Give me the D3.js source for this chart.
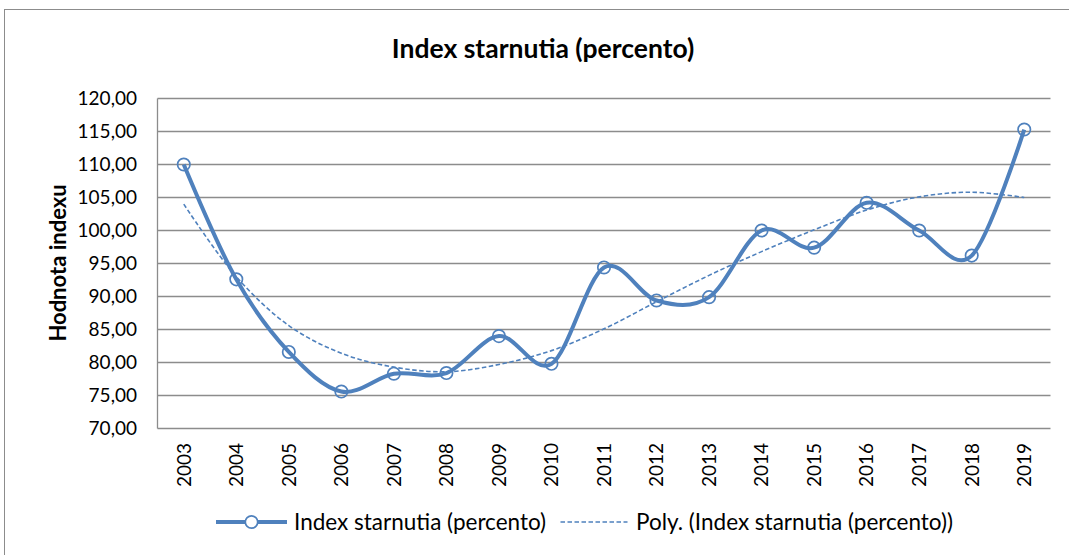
<!DOCTYPE html>
<html><head><meta charset="utf-8">
<script src="https://cdn.jsdelivr.net/npm/d3@7"></script>
<style>body{margin:0;background:#fff}svg{display:block}</style>
</head><body>
<svg id="c" width="1069" height="555"></svg>
<script>
const years = ["2003","2004","2005","2006","2007","2008","2009","2010","2011","2012","2013","2014","2015","2016","2017","2018","2019"];
const values = [110.0, 92.6, 81.6, 75.6, 78.3, 78.4, 84.0, 79.8, 94.4, 89.4, 89.9, 100.0, 97.4, 104.2, 100.0, 96.2, 115.3];
const trend = [104.0, 93.0, 85.6, 81.4, 79.3, 78.6, 79.7, 81.8, 85.1, 89.2, 93.2, 96.8, 100.1, 103.1, 105.1, 105.8, 105.0];
const yTicks = [70,75,80,85,90,95,100,105,110,115,120];
const title = "Index starnutia (percento)";
const yTitle = "Hodnota indexu";
const seriesName = "Index starnutia (percento)";
const trendName = "Poly. (Index starnutia (percento))";

const blue = "#4F81BD", grid = "#8c8c8c";
const font = "Lato, 'Open Sans', sans-serif";
const svg = d3.select("#c");
const L = 157.5, R = 1050.5, T = 98.5, B = 428.5;

svg.append("rect").attr("x",4.5).attr("y",9.5).attr("width",1200).attr("height",700)
  .attr("fill","none").attr("stroke","#8c8c8c").attr("stroke-width",1);

const x = d3.scaleBand().domain(years).range([L,R]);
const y = d3.scaleLinear().domain([70,120]).range([B,T]);
const fmt = d => d3.format(".2f")(d).replace(".",",");

svg.append("g").selectAll("line").data(yTicks).join("line")
  .attr("x1",L).attr("x2",R).attr("y1",d=>y(d)).attr("y2",d=>y(d))
  .attr("stroke",grid).attr("stroke-width",1.3);
svg.append("line").attr("x1",L).attr("x2",L).attr("y1",T).attr("y2",B).attr("stroke",grid).attr("stroke-width",1.3);

svg.append("g").selectAll("text").data(yTicks).join("text")
  .attr("x",137).attr("y",d=>y(d)).attr("dy","0.36em").attr("text-anchor","end")
  .attr("font-family",font).attr("font-size",19).attr("fill","#000").text(fmt);

svg.append("g").selectAll("text").data(years).join("text")
  .attr("transform",d=>`translate(${x(d)+x.bandwidth()/2},443) rotate(-90)`)
  .attr("text-anchor","end").attr("dy","0.36em")
  .attr("font-family",font).attr("font-size",19).attr("fill","#000").text(d=>d);

svg.append("text").attr("x",543).attr("y",48).attr("dy","0.36em").attr("text-anchor","middle")
  .attr("font-family",font).attr("font-weight","bold").attr("font-size",26.5).text(title);
svg.append("text").attr("transform","translate(58,263) rotate(-90)").attr("dy","0.36em").attr("text-anchor","middle")
  .attr("font-family",font).attr("font-weight","bold").attr("font-size",22).text(yTitle);

const cx = (d,i) => x(years[i]) + x.bandwidth()/2;
svg.append("path").datum(trend)
  .attr("d", d3.line().x(cx).y(d=>y(d)).curve(d3.curveCatmullRom))
  .attr("fill","none").attr("stroke",blue).attr("stroke-width",1.6).attr("stroke-dasharray","4.5,2.5");
svg.append("path").datum(values)
  .attr("d", d3.line().x(cx).y(d=>y(d)).curve(d3.curveCardinal.tension(0)))
  .attr("fill","none").attr("stroke",blue).attr("stroke-width",4).attr("stroke-linejoin","round");
svg.append("g").selectAll("circle").data(values).join("circle")
  .attr("cx",cx).attr("cy",d=>y(d)).attr("r",6.2)
  .attr("fill","none").attr("stroke",blue).attr("stroke-width",1.7);

const ly = 522;
svg.append("line").attr("x1",216).attr("x2",287).attr("y1",ly).attr("y2",ly).attr("stroke",blue).attr("stroke-width",4);
svg.append("circle").attr("cx",251.5).attr("cy",ly).attr("r",6.2).attr("fill","#fff").attr("stroke",blue).attr("stroke-width",1.7);
svg.append("text").attr("x",294).attr("y",ly).attr("dy","0.36em").attr("font-family",font).attr("font-size",22.5).text(seriesName);
svg.append("line").attr("x1",560.5).attr("x2",627.5).attr("y1",ly).attr("y2",ly).attr("stroke",blue).attr("stroke-width",1.6).attr("stroke-dasharray","4.5,2.5");
svg.append("text").attr("x",636).attr("y",ly).attr("dy","0.36em").attr("font-family",font).attr("font-size",22.5).text(trendName);
</script>
</body></html>
